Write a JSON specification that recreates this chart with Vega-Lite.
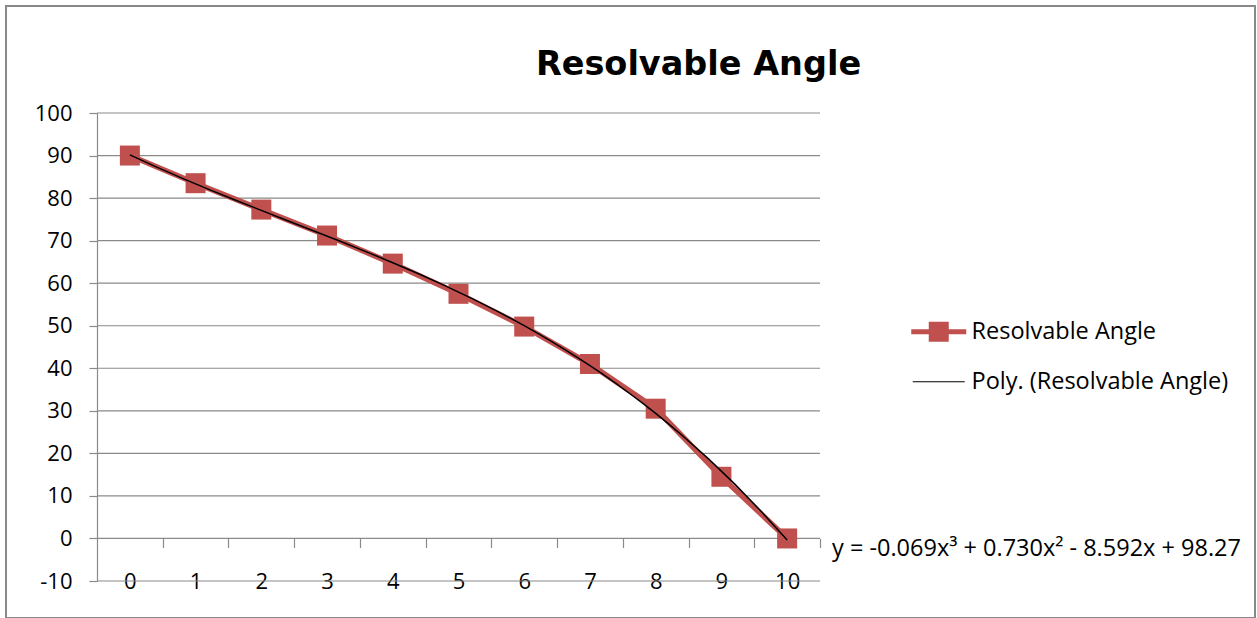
{
  "$schema": "https://vega.github.io/schema/vega-lite/v6.json",
  "width": 1249,
  "height": 612,
  "autosize": {"type": "none"},
  "padding": {"left": 6, "top": 6, "right": 2, "bottom": 0},
  "background": "white",
  "config": {
    "view": {"stroke": "#898989", "strokeWidth": 2},
    "font": "Open Sans"
  },
  "title": {
    "text": "Resolvable Angle",
    "font": "DejaVu Sans",
    "fontWeight": "bold",
    "fontSize": 33.5,
    "color": "black",
    "anchor": "middle",
    "baseline": "alphabetic",
    "dx": 68,
    "offset": -102
  },
  "datasets": {
    "angles": [
      {"x": 0, "angle": 90},
      {"x": 1, "angle": 83.5},
      {"x": 2, "angle": 77.3},
      {"x": 3, "angle": 71.2},
      {"x": 4, "angle": 64.6},
      {"x": 5, "angle": 57.5},
      {"x": 6, "angle": 49.8},
      {"x": 7, "angle": 41.0},
      {"x": 8, "angle": 30.5},
      {"x": 9, "angle": 14.5},
      {"x": 10, "angle": 0}
    ],
    "gridlines": [
      {"level": -10}, {"level": 0}, {"level": 10}, {"level": 20}, {"level": 30},
      {"level": 40}, {"level": 50}, {"level": 60}, {"level": 70}, {"level": 80},
      {"level": 90}, {"level": 100}
    ]
  },
  "layer": [
    {
      "data": {"name": "gridlines"},
      "mark": {"type": "rule", "color": "#8a8a8a", "strokeWidth": 1.2},
      "encoding": {
        "x": {
          "datum": -0.5,
          "type": "quantitative",
          "scale": {"domain": [-0.5, 10.5], "range": [91, 814], "nice": false, "zero": false},
          "axis": {
            "orient": "bottom",
            "offset": -79.5,
            "values": [0.5, 1.5, 2.5, 3.5, 4.5, 5.5, 6.5, 7.5, 8.5, 9.5, 10.5],
            "ticks": true,
            "tickSize": 9,
            "tickColor": "#8a8a8a",
            "tickWidth": 1.2,
            "labels": false,
            "domain": false,
            "grid": false,
            "title": null
          }
        },
        "x2": {"datum": 10.5},
        "y": {
          "field": "level",
          "type": "quantitative",
          "scale": {"domain": [-10, 100], "range": [575, 107], "nice": false, "zero": false},
          "axis": null
        }
      }
    },
    {
      "data": {"name": "angles"},
      "mark": {"type": "line", "strokeWidth": 5.5},
      "encoding": {
        "x": {
          "field": "x",
          "type": "quantitative",
          "scale": {"domain": [-0.5, 10.5], "range": [91, 814], "nice": false, "zero": false},
          "axis": {
            "orient": "bottom",
            "offset": -37,
            "values": [0, 1, 2, 3, 4, 5, 6, 7, 8, 9, 10],
            "ticks": false,
            "tickSize": 0,
            "domain": false,
            "grid": false,
            "labelPadding": 0,
            "labelBaseline": "middle",
            "labelFontSize": 22,
            "labelColor": "black",
            "labelFlush": false,
            "labelOverlap": false,
            "title": null
          }
        },
        "y": {
          "field": "angle",
          "type": "quantitative",
          "scale": {"domain": [-10, 100], "range": [575, 107], "nice": false, "zero": false},
          "axis": {
            "orient": "left",
            "offset": -91,
            "values": [-10, 0, 10, 20, 30, 40, 50, 60, 70, 80, 90, 100],
            "labelExpr": "datum.value < 0 ? '-' + abs(datum.value) : datum.label",
            "grid": false,
            "domainColor": "#8a8a8a",
            "domainWidth": 1.2,
            "tickColor": "#8a8a8a",
            "tickWidth": 1.2,
            "tickSize": 8,
            "labelPadding": 17,
            "labelFontSize": 22,
            "labelColor": "black",
            "labelFlush": false,
            "labelOverlap": false,
            "title": null
          }
        },
        "color": {
          "datum": "Resolvable Angle",
          "type": "nominal",
          "scale": {
            "domain": ["Resolvable Angle", "Poly. (Resolvable Angle)"],
            "range": ["#C0504D", "#000000"]
          },
          "legend": {
            "orient": "none",
            "legendX": 921,
            "legendY": 314,
            "title": null,
            "padding": 0,
            "symbolSize": 400,
            "labelFontSize": 23.5,
            "labelColor": "black",
            "labelOffset": 21,
            "rowPadding": 25,
            "labelLimit": 400,
            "encode": {
              "symbols": {
                "update": {
                  "shape": {"signal": "datum.value === 'Resolvable Angle' ? 'M-2.75,-0.26H2.75V0.26H-2.75Z M-1,-1H1V1H-1Z' : 'M-2.6,-0.06H2.6V0.06H-2.6Z'"},
                  "fill": {"signal": "datum.value === 'Resolvable Angle' ? '#C0504D' : '#000000'"},
                  "fillOpacity": {"value": 1},
                  "stroke": {"value": "transparent"},
                  "strokeWidth": {"value": 0},
                  "size": {"value": 400}
                }
              }
            }
          }
        }
      }
    },
    {
      "data": {"name": "angles"},
      "mark": {"type": "point", "shape": "square", "filled": true, "size": 400, "opacity": 1},
      "encoding": {
        "x": {"field": "x", "type": "quantitative", "scale": {"domain": [-0.5, 10.5], "range": [91, 814], "nice": false, "zero": false}, "axis": null},
        "y": {"field": "angle", "type": "quantitative", "scale": {"domain": [-10, 100], "range": [575, 107], "nice": false, "zero": false}, "axis": null},
        "color": {"datum": "Resolvable Angle", "type": "nominal"}
      }
    },
    {
      "data": {"name": "angles"},
      "transform": [
        {"regression": "angle", "on": "x", "method": "poly", "order": 3}
      ],
      "mark": {"type": "line", "strokeWidth": 1.5},
      "encoding": {
        "x": {"field": "x", "type": "quantitative", "scale": {"domain": [-0.5, 10.5], "range": [91, 814], "nice": false, "zero": false}, "axis": null},
        "y": {"field": "angle", "type": "quantitative", "scale": {"domain": [-10, 100], "range": [575, 107], "nice": false, "zero": false}, "axis": null},
        "color": {"datum": "Poly. (Resolvable Angle)", "type": "nominal"}
      }
    },
    {
      "data": {"values": [{"equation": "y = -0.069x³ + 0.730x² - 8.592x + 98.27"}]},
      "mark": {"type": "text", "align": "left", "baseline": "middle", "dx": 12, "dy": 11, "fontSize": 23.5, "color": "black"},
      "encoding": {
        "x": {"datum": 10.5, "type": "quantitative", "axis": null},
        "y": {"datum": 0, "type": "quantitative", "axis": null},
        "text": {"field": "equation"}
      }
    }
  ],
  "resolve": {"axis": {"x": "independent", "y": "independent"}}
}
